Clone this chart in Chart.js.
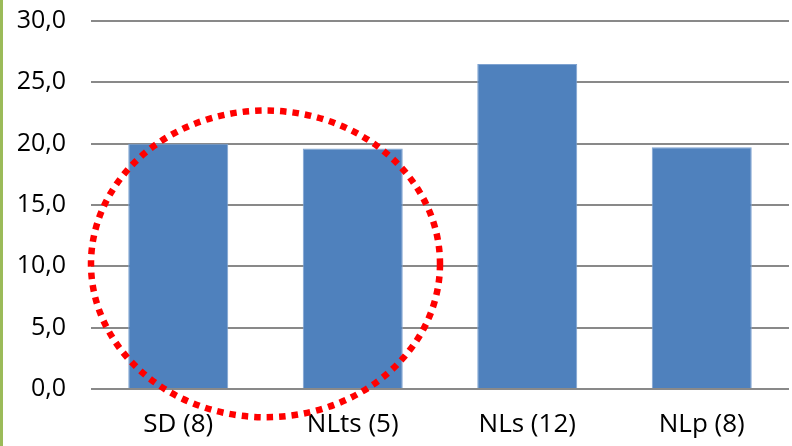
<!DOCTYPE html>
<html><head><meta charset="utf-8">
<script src="https://cdn.jsdelivr.net/npm/chart.js@4"></script>
<style>html,body{margin:0;padding:0;background:#fff}#w{position:relative;width:792px;height:446px}
#g{position:absolute;left:0;top:0;width:3px;height:446px;background:#9BBB59}</style>
</head><body><div id="w"><div id="g"></div><canvas id="c" width="792" height="446"></canvas></div>
<script>
const categories = ["SD (8)", "NLts (5)", "NLs (12)", "NLp (8)"];
const values = [20.0, 19.6, 26.5, 19.7];
const yTicks = [0, 5, 10, 15, 20, 25, 30];

const ellipsePlugin = {
  id: 'ellipse',
  afterDatasetsDraw(chart) {
    const {ctx, scales:{x, y}} = chart;
    const cx = (x.getPixelForValue(0) + x.getPixelForValue(1)) / 2;
    const cy = y.getPixelForValue(10.2);
    const rx = (x.getPixelForValue(1) - x.getPixelForValue(0)) * 1.0;
    const ry = y.getPixelForValue(0) - y.getPixelForValue(12.5);
    ctx.save();
    ctx.strokeStyle = '#FF0000';
    ctx.lineWidth = 6.5;
    ctx.setLineDash([6.5, 6]);
    ctx.beginPath();
    ctx.ellipse(cx, cy, rx, ry, 0, 0, Math.PI * 2);
    ctx.stroke();
    ctx.restore();
  }
};

new Chart(document.getElementById('c'), {
  type: 'bar',
  data: { labels: categories, datasets: [{ data: values, backgroundColor: '#4F81BD', borderColor: '#7FA3D1', borderWidth: 1, categoryPercentage: 1, barPercentage: 0.573 }] },
  options: {
    responsive: false, animation: false,
    layout: { padding: { left: 0, right: 3, top: 21, bottom: 0 } },
    plugins: { legend: { display: false }, tooltip: { enabled: false } },
    scales: {
      x: {
        grid: { display: false, drawTicks: false },
        border: { display: false },
        ticks: { color: '#000', font: { family: 'Open Sans', size: 26 }, padding: 20 },
        afterFit(s) { s.height = 57; s.paddingLeft = 0; s.paddingRight = 0; }
      },
      y: {
        min: 0, max: 30,
        afterBuildTicks(s) { s.ticks = yTicks.map(v => ({ value: v })); },
        grid: { color: '#898989', lineWidth: 2, drawTicks: false },
        border: { display: false },
        ticks: { color: '#000', font: { family: 'Open Sans', size: 25 }, padding: 25,
          callback: v => v.toFixed(1).replace('.', ',') },
        afterFit(s) { s.width = 91; s.paddingTop = 0; s.paddingBottom = 0; }
      }
    }
  },
  plugins: [ellipsePlugin]
});
</script></body></html>
